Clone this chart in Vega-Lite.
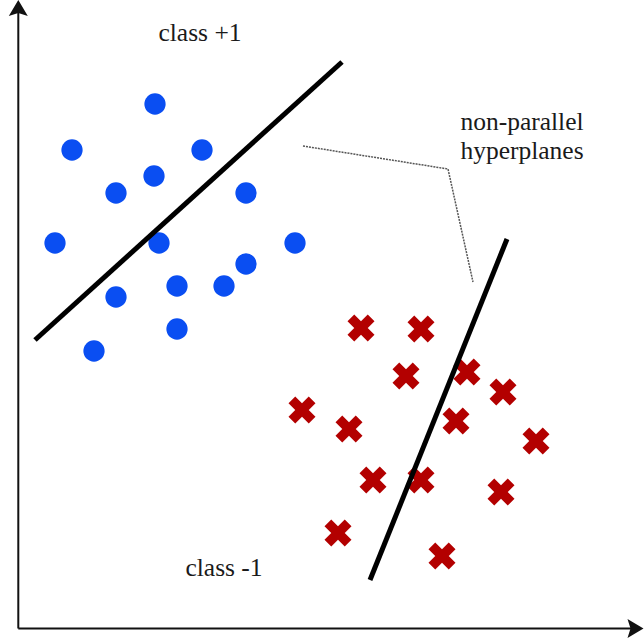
{
  "$schema": "https://vega.github.io/schema/vega-lite/v6.json",
  "width": 644,
  "height": 641,
  "padding": 0,
  "autosize": {"type": "none"},
  "background": "white",
  "config": {"view": {"stroke": null}},
  "datasets": {
    "blue": [
      {"x": 155, "y": 104}, {"x": 72, "y": 150}, {"x": 202, "y": 150},
      {"x": 154, "y": 176}, {"x": 116, "y": 193}, {"x": 246, "y": 193},
      {"x": 55, "y": 243}, {"x": 159, "y": 243}, {"x": 295, "y": 243},
      {"x": 246, "y": 264}, {"x": 177, "y": 286}, {"x": 224, "y": 286},
      {"x": 116, "y": 297}, {"x": 177, "y": 329}, {"x": 94, "y": 351}
    ],
    "red": [
      {"x": 361, "y": 328}, {"x": 421, "y": 329}, {"x": 406, "y": 376},
      {"x": 467, "y": 372}, {"x": 503, "y": 392}, {"x": 302, "y": 410},
      {"x": 349, "y": 429}, {"x": 456, "y": 421}, {"x": 536, "y": 441},
      {"x": 373, "y": 480}, {"x": 421, "y": 480}, {"x": 501, "y": 492},
      {"x": 338, "y": 533}, {"x": 442, "y": 556}
    ],
    "planes": [
      {"x": 35, "y": 340, "x2": 342, "y2": 62},
      {"x": 370, "y": 580, "x2": 507, "y2": 239}
    ],
    "axes": [
      {"x": 18.3, "y": 628.5, "x2": 18.3, "y2": 10},
      {"x": 18.3, "y": 628.5, "x2": 634, "y2": 628.5}
    ],
    "leader": [
      {"x": 303, "y": 146, "o": 1},
      {"x": 448, "y": 169, "o": 2},
      {"x": 473, "y": 282, "o": 3}
    ],
    "labels": [
      {"x": 200, "y": 41, "t": "class +1"},
      {"x": 522, "y": 130, "t": "non-parallel"},
      {"x": 522, "y": 159, "t": "hyperplanes"},
      {"x": 224, "y": 576, "t": "class -1"}
    ]
  },
  "layer": [
    {
      "data": {"name": "axes"},
      "mark": {"type": "rule", "color": "#111111", "strokeWidth": 2},
      "encoding": {
        "x": {"field": "x", "type": "quantitative", "axis": null, "scale": {"domain": [0, 644], "nice": false, "zero": false}},
        "y": {"field": "y", "type": "quantitative", "axis": null, "scale": {"domain": [0, 641], "nice": false, "zero": false, "reverse": true}},
        "x2": {"field": "x2"},
        "y2": {"field": "y2"}
      }
    },
    {
      "data": {"values": [{"x": 18.3, "y": 8}]},
      "mark": {"type": "point", "shape": "M 0 -0.8 L 0.95 0.8 L 0 0.5 L -0.95 0.8 Z", "size": 400, "filled": true, "color": "#111111", "opacity": 1},
      "encoding": {
        "x": {"field": "x", "type": "quantitative"},
        "y": {"field": "y", "type": "quantitative"}
      }
    },
    {
      "data": {"values": [{"x": 635.5, "y": 628.5}]},
      "mark": {"type": "point", "shape": "M 0.8 0 L -0.8 0.95 L -0.5 0 L -0.8 -0.95 Z", "size": 400, "filled": true, "color": "#111111", "opacity": 1},
      "encoding": {
        "x": {"field": "x", "type": "quantitative"},
        "y": {"field": "y", "type": "quantitative"}
      }
    },
    {
      "data": {"name": "leader"},
      "mark": {"type": "line", "color": "#555555", "strokeWidth": 1.5, "strokeDash": [2, 1]},
      "encoding": {
        "x": {"field": "x", "type": "quantitative"},
        "y": {"field": "y", "type": "quantitative"},
        "order": {"field": "o"}
      }
    },
    {
      "data": {"name": "blue"},
      "mark": {"type": "circle", "size": 452, "color": "#0a4ef2", "opacity": 1},
      "encoding": {
        "x": {"field": "x", "type": "quantitative"},
        "y": {"field": "y", "type": "quantitative"}
      }
    },
    {
      "data": {"name": "red"},
      "mark": {"type": "point", "shape": "M -1 -0.5 L -0.5 -1 L 0 -0.5 L 0.5 -1 L 1 -0.5 L 0.5 0 L 1 0.5 L 0.5 1 L 0 0.5 L -0.5 1 L -1 0.5 L -0.5 0 Z", "size": 729, "filled": true, "color": "#b30000", "opacity": 1},
      "encoding": {
        "x": {"field": "x", "type": "quantitative"},
        "y": {"field": "y", "type": "quantitative"}
      }
    },
    {
      "data": {"name": "planes"},
      "mark": {"type": "rule", "color": "#000000", "strokeWidth": 5},
      "encoding": {
        "x": {"field": "x", "type": "quantitative"},
        "y": {"field": "y", "type": "quantitative"},
        "x2": {"field": "x2"},
        "y2": {"field": "y2"}
      }
    },
    {
      "data": {"name": "labels"},
      "mark": {"type": "text", "font": "Liberation Serif", "fontSize": 25.5, "color": "#1a1a1a", "align": "center", "baseline": "alphabetic"},
      "encoding": {
        "x": {"field": "x", "type": "quantitative"},
        "y": {"field": "y", "type": "quantitative"},
        "text": {"field": "t"}
      }
    }
  ]
}
